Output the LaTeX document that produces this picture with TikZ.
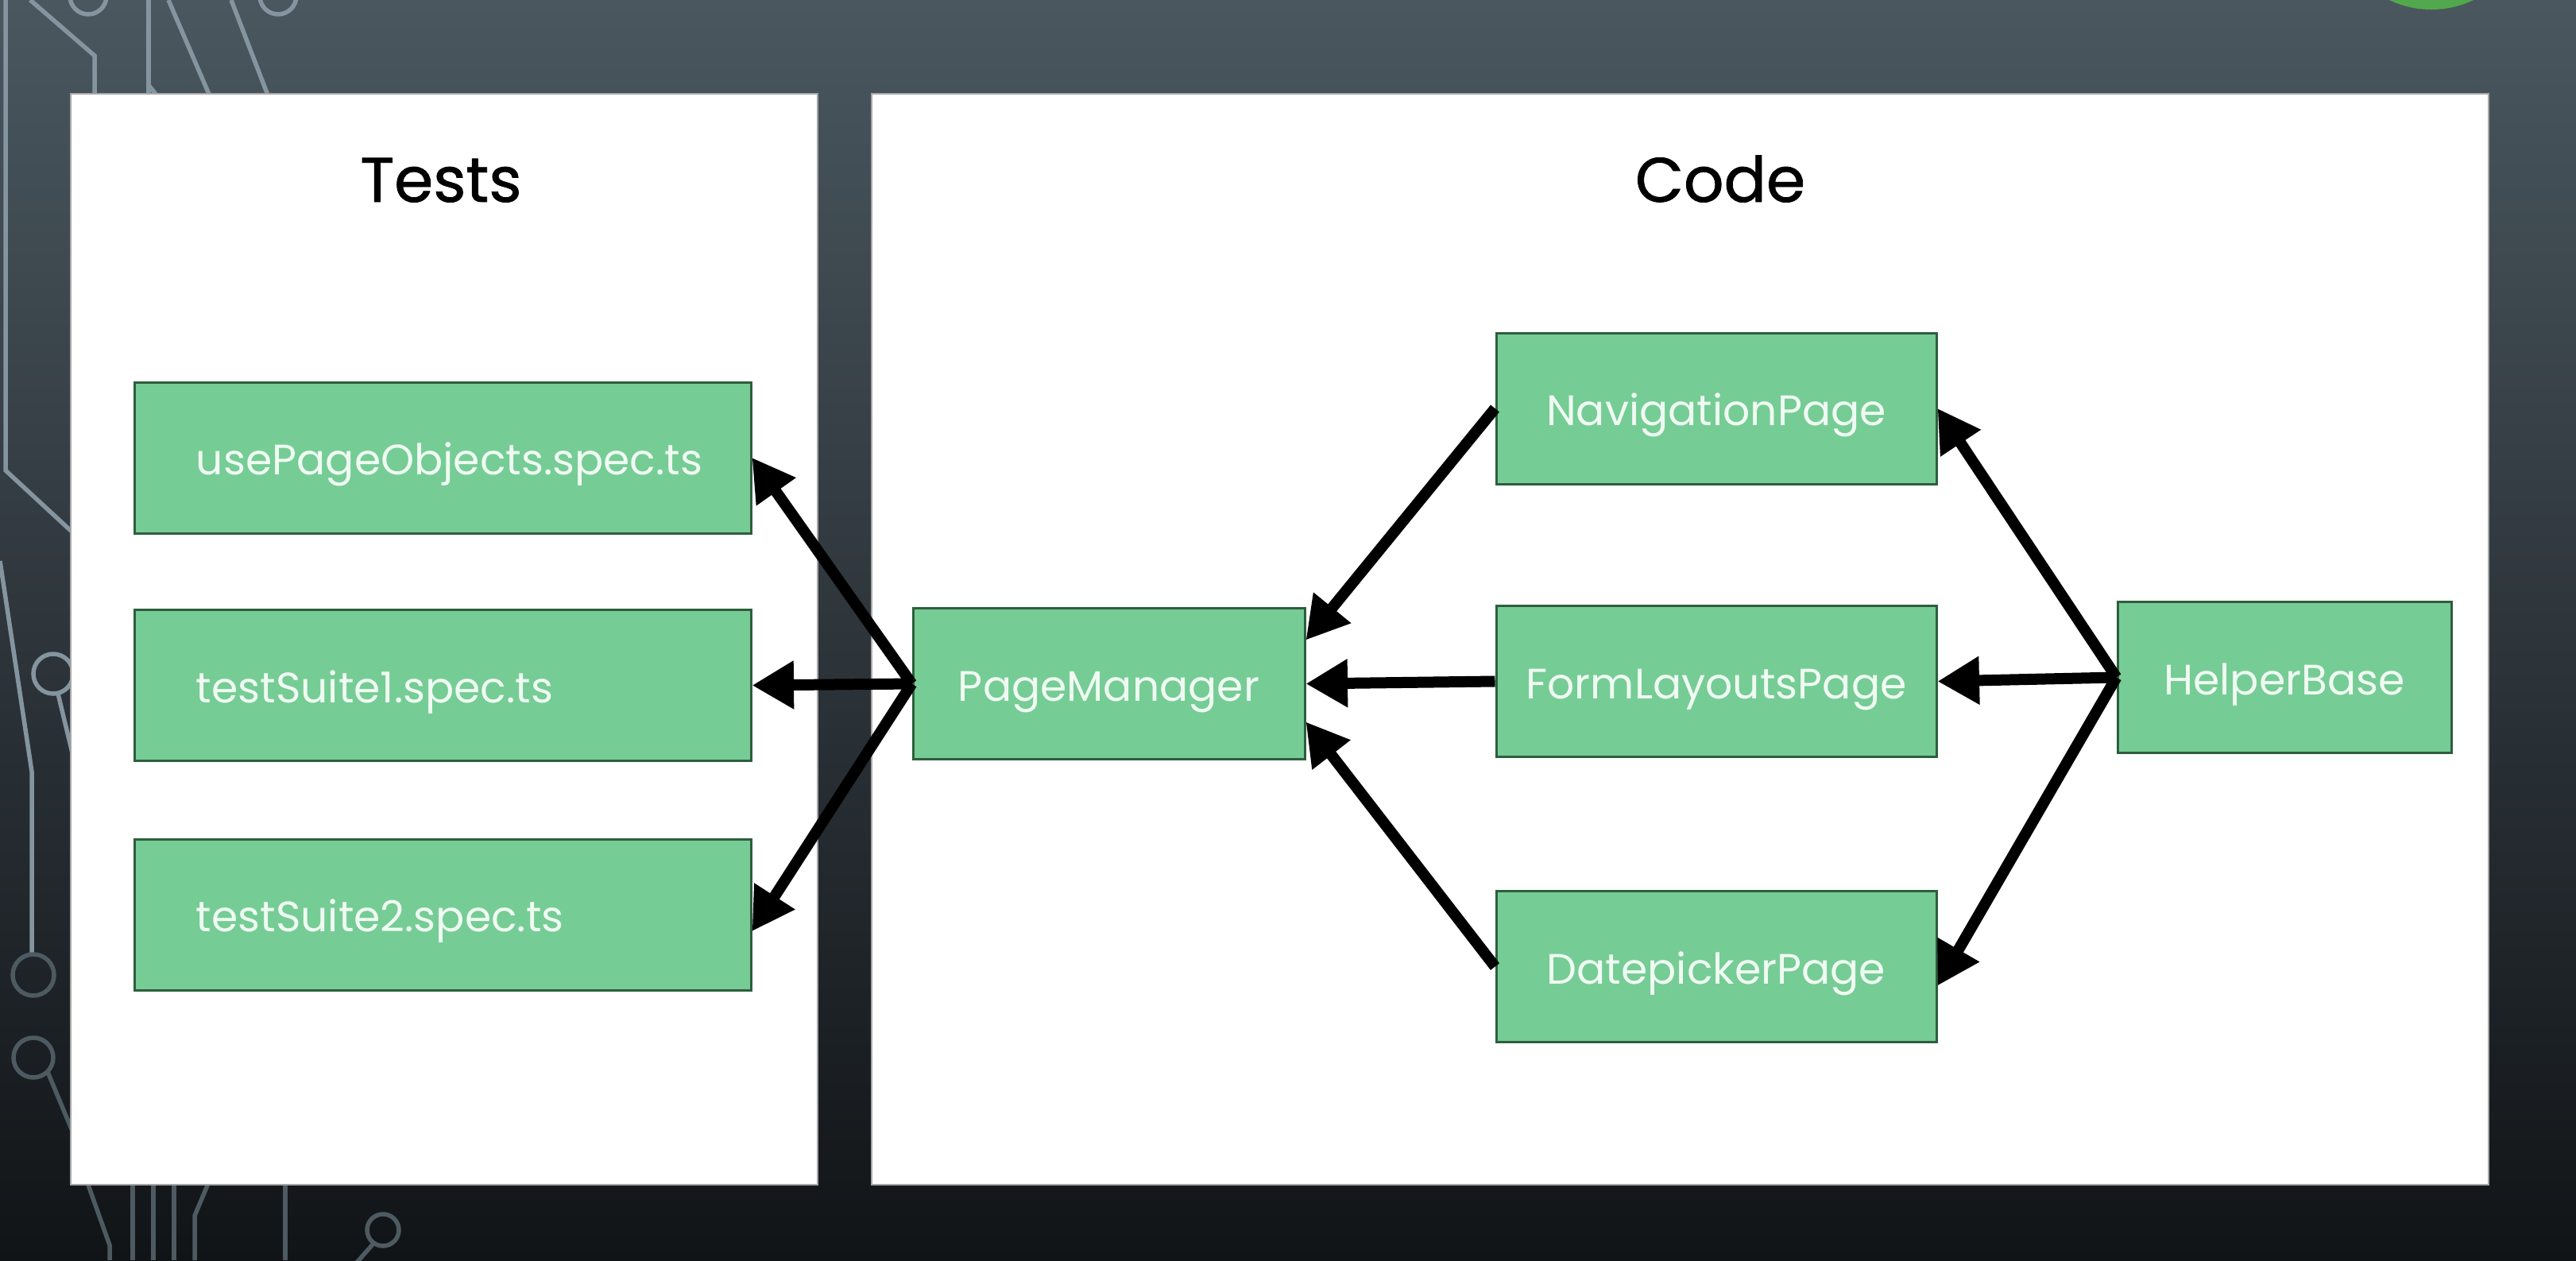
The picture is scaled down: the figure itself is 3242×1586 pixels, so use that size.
\documentclass[tikz,border=0pt]{standalone}
\usepackage{fontspec}
\setmainfont{Poppins}
\newfontfamily\titlefont{Poppins}[FakeBold=1]
\usetikzlibrary{arrows.meta}
\definecolor{bgtop}{HTML}{4A575F}
\definecolor{bgmid}{HTML}{2A3338}
\definecolor{bgbot}{HTML}{111417}
\definecolor{wire}{HTML}{8495A0}
\definecolor{wiredk}{HTML}{4E5A62}
\definecolor{boxfill}{HTML}{76CC95}
\definecolor{boxline}{HTML}{2E5E3E}
\definecolor{boxtext}{HTML}{EFFBF2}
\definecolor{logo}{HTML}{52A84C}

\begin{document}
\begin{tikzpicture}[x=0.2mm, y=-0.2mm,
    wire/.style={draw=wire, line width=1.1mm},
    wiredk/.style={draw=wiredk, line width=1.1mm},
    panel/.style={fill=white, draw=black!35, line width=0.3mm},
    title/.style={font=\titlefont\fontsize{45}{54}\selectfont, text=black, inner sep=0pt, anchor=base},
    box/.style={draw=boxline, fill=boxfill, line width=0.6mm, text=boxtext,
        font=\fontsize{30.5}{37}\selectfont, minimum height=38mm, inner sep=0pt,
        text height=32.6pt, text depth=7.6pt},
    testbox/.style={box, text width=124.2mm, inner xsep=15.4mm, align=left},
    link/.style={line width=2.8mm, -{Triangle[length=10.5mm, width=11.5mm]}}]
    \useasboundingbox (0,0) rectangle (3242,1586);
    \shade[top color=bgtop, middle color=bgmid, bottom color=bgbot] (0,0) rectangle (3242,1586);
    \fill[logo] (3060,-111) circle (123);
    \draw[wire] (7,0) -- (7,592) -- (100,678);
    \draw[wire] (38,0) -- (119,70) -- (119,130);
    \draw[wire] (111,-5) circle (23);
    \draw[wire] (187,0) -- (187,130);
    \draw[wire] (187,107) -- (205,130);
    \draw[wire] (212,0) -- (268,130);
    \draw[wire] (291,0) -- (341,130);
    \draw[wire] (350,-5) circle (23);
    \draw[wire] (0,706) -- (40,971) -- (40,1202);
    \draw[wire] (67,848) circle (25);
    \draw[wire] (73,873) -- (100,985);
    \draw[wiredk] (42,1227) circle (26);
    \draw[wiredk] (42,1331) circle (25);
    \draw[wiredk] (60,1349) -- (100,1445);
    \draw[wiredk] (107,1480) -- (138,1567) -- (138,1586);
    \draw[wiredk] (167,1480) -- (167,1586);
    \draw[wiredk] (193,1480) -- (193,1586);
    \draw[wiredk] (219,1480) -- (219,1586);
    \draw[wiredk] (266,1480) -- (245,1530) -- (245,1586);
    \draw[wiredk] (359,1480) -- (359,1586);
    \draw[wiredk] (482,1548) circle (20);
    \draw[wiredk] (470,1565) -- (448,1590);
    \draw[panel] (89,118) rectangle (1029,1491);
    \draw[panel] (1097,118) rectangle (3132,1491);
    \node[title] (tests) at (555,254) {Tests};
    \node[title] (code) at (2165,254) {Code};
    \node[testbox] (upo) at (557.5,576) {usePageObjects.spec.ts};
    \node[testbox] (ts1) at (557.5,862.5) {testSuite1.spec.ts};
    \node[testbox] (ts2) at (557.5,1151) {testSuite2.spec.ts};
    \node[box, minimum width=98.6mm] (pm) at (1395.5,860.5) {PageManager};
    \node[box, minimum width=110.8mm] (nav) at (2160,514) {NavigationPage};
    \node[box, minimum width=110.8mm] (form) at (2160,857.5) {FormLayoutsPage};
    \node[box, minimum width=110.8mm] (dp) at (2160,1216.5) {DatepickerPage};
    \node[box, minimum width=84mm] (hb) at (2875,852.5) {HelperBase};
    \draw[link] (pm.west) -- (upo.east);
    \draw[link] (pm.west) -- (ts1.east);
    \draw[link] (pm.west) -- ([yshift=-4.2mm]ts2.east);
    \draw[link] (nav.west) -- ([yshift=11mm]pm.east);
    \draw[link] (form.west) -- (pm.east);
    \draw[link] (dp.west) -- ([yshift=-9.6mm]pm.east);
    \draw[link] (hb.west) -- (nav.east);
    \draw[link] (hb.west) -- (form.east);
    \draw[link] (hb.west) -- ([yshift=-4.8mm]dp.east);
\end{tikzpicture}
\end{document}
